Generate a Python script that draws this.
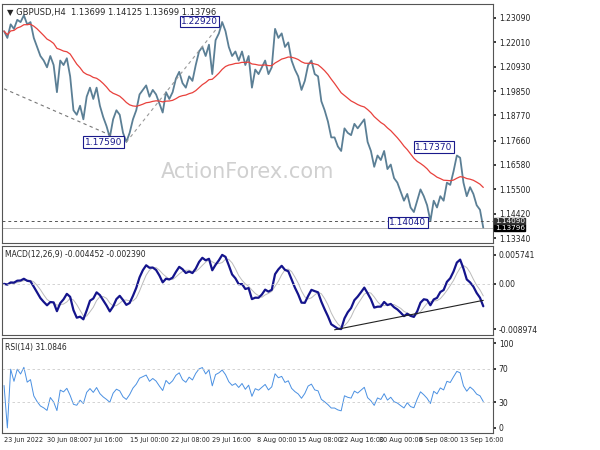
import numpy as np, pandas as pd, matplotlib
matplotlib.use("Agg")
import matplotlib.pyplot as plt, seaborn as sns

sns.set_theme(style="white")
plt.rcParams['font.family'] = ['DejaVu Sans']

closes = [1.225,1.222,1.228,1.226,1.230,1.229,1.232,1.228,1.229,1.222,1.218,1.214,1.212,1.209,1.214,1.210,1.198,1.212,1.210,1.213,
1.205,1.190,1.188,1.192,1.186,1.196,1.200,1.195,1.200,1.192,1.187,1.183,1.178,1.186,1.190,1.188,1.180,1.176,1.180,1.186,
1.190,1.197,1.199,1.201,1.196,1.199,1.197,1.193,1.189,1.198,1.195,1.198,1.204,1.207,1.202,1.200,1.205,1.203,1.210,1.216,
1.218,1.214,1.219,1.206,1.221,1.224,1.229,1.225,1.218,1.214,1.216,1.212,1.216,1.210,1.214,1.200,1.208,1.206,1.209,1.212,
1.206,1.209,1.226,1.222,1.224,1.218,1.220,1.212,1.208,1.205,1.199,1.203,1.210,1.212,1.206,1.205,1.194,1.190,1.185,1.178,
1.178,1.174,1.172,1.182,1.180,1.179,1.184,1.182,1.184,1.186,1.176,1.172,1.165,1.170,1.168,1.172,1.164,1.166,1.160,1.158,
1.154,1.150,1.153,1.147,1.145,1.150,1.155,1.152,1.148,1.141,1.150,1.147,1.152,1.150,1.158,1.157,1.163,1.170,1.169,1.158,
1.152,1.156,1.153,1.148,1.146,1.138]
date_labels = ["23 Jun 2022","30 Jun 08:00","7 Jul 16:00","15 Jul 00:00","22 Jul 08:00","29 Jul 16:00",
               "8 Aug 00:00","15 Aug 08:00","22 Aug 16:00","30 Aug 00:00","6 Sep 08:00","13 Sep 16:00"]
date_pos = [0,13,25.5,38,50.5,63,76.5,89,101.5,113.5,125.5,138]
price_ticks = [1.23090,1.22010,1.20930,1.19850,1.18770,1.17660,1.16580,1.15500,1.14420,1.13340]
labels_pts = {"1.17590":(37,1.1759),"1.22920":(66,1.2292),"1.14040":(129,1.1404),"1.17370":(137,1.1737)}

s = pd.Series(closes)
df = pd.DataFrame({"i":np.arange(len(s)),"close":s})
df["ma"] = s.ewm(span=26).mean()
macd = s.ewm(span=5).mean()-s.ewm(span=11).mean()
df["macd"]=macd; df["sig"]=macd.rolling(4,min_periods=1).mean()
d = s.diff(); up=d.clip(lower=0).ewm(alpha=1/9).mean(); dn=(-d.clip(upper=0)).ewm(alpha=1/9).mean()
df["rsi"]=100-100/(1+up/dn.replace(0,1e-9)); df.loc[0,"rsi"]=50

fig = plt.figure(figsize=(6,4.5),dpi=100)
W=0.818; X0=0.004
ax1=fig.add_axes([X0,1-243/450,W,239/450])
ax2=fig.add_axes([X0,1-335/450,W,89/450])
ax3=fig.add_axes([X0,1-433/450,W,95/450])
xl=(-0.5,148)
for a in (ax1,ax2,ax3):
    a.set_xlim(*xl)
    for sp in a.spines.values(): sp.set_color('#555'); sp.set_linewidth(0.8)
    a.yaxis.tick_right(); a.tick_params(axis='y',labelsize=5.5,length=2,pad=2,colors='#222')
    a.set_xticks([])

sns.lineplot(data=df,x="i",y="close",ax=ax1,color="#5b7f95",lw=1.3)
sns.lineplot(data=df,x="i",y="ma",ax=ax1,color="#e8413c",lw=0.9)
ax1.set_ylim(1.1313,1.2370); ax1.set_yticks(price_ticks)
ax1.set_yticklabels([f"{t:.5f}" for t in price_ticks])
ax1.set_xlabel(""); ax1.set_ylabel("")
ax1.plot([0,37],[1.1995,1.1759],ls=(0,(3,3)),color='#777',lw=0.8)
ax1.plot([37,66],[1.1759,1.2292],ls=(0,(3,3)),color='#999',lw=0.8)
ax1.axhline(1.1409,ls=(0,(3,3)),color='#555',lw=0.7)
ax1.axhline(1.13796,color='#aaa',lw=0.6)
for txt,(xi,yv) in labels_pts.items():
    ax1.annotate(txt,(xi,yv),xytext=(-3,0),textcoords='offset points',ha='right',va='center',fontsize=6.5,color='#1a1a8c',
                 bbox=dict(boxstyle='square,pad=0.15',fc='white',ec='#1a1a8c',lw=0.8))
for yv,fc in ((1.14090,'#333'),(1.13796,'#000')):
    ax1.text(1.003,yv,f"{yv:.5f}",transform=ax1.get_yaxis_transform(),fontsize=5.2,color='white',va='center',
             bbox=dict(boxstyle='square,pad=0.05',fc=fc,ec=fc))
ax1.text(0.5,0.27,"ActionForex.com",transform=ax1.transAxes,ha='center',fontsize=15,color='#d0d0d0')
ax1.text(0.01,0.985,"▼ GBPUSD,H4  1.13699 1.14125 1.13699 1.13796",transform=ax1.transAxes,fontsize=6,va='top')

sns.lineplot(data=df,x="i",y="sig",ax=ax2,color="#bbbbbb",lw=0.7)
sns.lineplot(data=df,x="i",y="macd",ax=ax2,color="#14148c",lw=1.6)
mx,mn=df.macd.max(),df.macd.min()
ax2.set_ylim(mn-0.08*(mx-mn),mx+0.12*(mx-mn))
ax2.set_yticks([mx,0,mn]); ax2.set_yticklabels([f"{mx:.6f}","0.00",f"{mn:.6f}"])
ax2.axhline(0,ls=(0,(3,3)),color='#ccc',lw=0.6)
imn=int(df.macd.idxmin())
ax2.plot([imn-2,145],[mn-0.01*(mx-mn),df.macd.iloc[-1]+0.08*(mx-mn)],color='#222',lw=0.8)
ax2.set_xlabel(""); ax2.set_ylabel("")
ax2.text(0.005,0.95,f"MACD(12,26,9) {df.macd.iloc[-1]:.6f} {df.sig.iloc[-1]:.6f}",transform=ax2.transAxes,fontsize=5.5,va='top')

sns.lineplot(data=df,x="i",y="rsi",ax=ax3,color="#4a90e2",lw=0.7)
ax3.set_ylim(-6,106); ax3.set_yticks([0,30,70,100])
for v in (30,70): ax3.axhline(v,ls=(0,(3,3)),color='#ccc',lw=0.6)
ax3.set_xlabel(""); ax3.set_ylabel("")
ax3.text(0.005,0.95,f"RSI(14) {df.rsi.iloc[-1]:.4f}",transform=ax3.transAxes,fontsize=5.5,va='top')
ax3.set_xticks(date_pos); ax3.set_xticklabels(date_labels,fontsize=4.7,ha='left')
ax3.tick_params(axis='x',length=2,pad=1)
fig.savefig("out.png",dpi=100)
